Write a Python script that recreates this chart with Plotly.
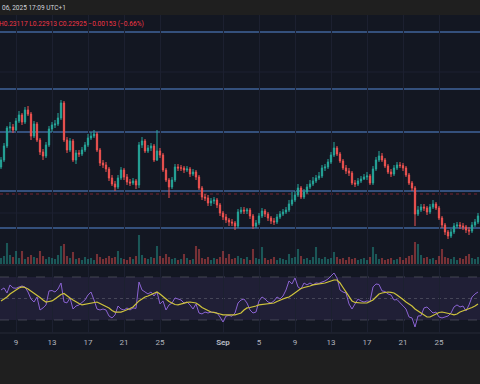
import pandas as pd
import plotly.graph_objects as go

# ---------------- data ----------------
times = pd.date_range("2025-08-07 08:00", periods=160, freq="8h")

open_ = [0.2665,0.2700,0.2770,0.2860,0.2865,0.2850,0.2895,0.2925,0.2890,0.2950,
         0.2930,0.2820,0.2880,0.2800,0.2740,0.2720,0.2775,0.2855,0.2875,0.2880,
         0.2910,0.2985,0.2800,0.2750,0.2795,0.2700,0.2735,0.2730,0.2750,0.2775,
         0.2810,0.2820,0.2830,0.2750,0.2685,0.2675,0.2655,0.2610,0.2580,0.2565,
         0.2610,0.2650,0.2615,0.2590,0.2585,0.2595,0.2575,0.2775,0.2795,0.2745,
         0.2760,0.2770,0.2700,0.2745,0.2725,0.2650,0.2600,0.2565,0.2600,0.2665,
         0.2660,0.2660,0.2650,0.2655,0.2630,0.2640,0.2615,0.2560,0.2515,0.2510,
         0.2485,0.2495,0.2500,0.2475,0.2435,0.2415,0.2400,0.2390,0.2385,0.2370,
         0.2440,0.2450,0.2445,0.2450,0.2420,0.2370,0.2385,0.2420,0.2445,0.2430,
         0.2410,0.2395,0.2390,0.2415,0.2430,0.2440,0.2450,0.2480,0.2500,0.2525,
         0.2560,0.2515,0.2540,0.2565,0.2580,0.2595,0.2610,0.2620,0.2660,0.2665,
         0.2690,0.2725,0.2760,0.2730,0.2695,0.2660,0.2645,0.2635,0.2585,0.2580,
         0.2595,0.2605,0.2615,0.2620,0.2585,0.2655,0.2700,0.2720,0.2700,0.2670,
         0.2640,0.2630,0.2660,0.2675,0.2672,0.2660,0.2625,0.2585,0.2560,0.2430,
         0.2450,0.2465,0.2460,0.2440,0.2465,0.2480,0.2460,0.2410,0.2375,0.2340,
         0.2320,0.2340,0.2370,0.2375,0.2370,0.2365,0.2350,0.2345,0.2375,0.2390]

high = [0.2715,0.2785,0.2870,0.2890,0.2880,0.2910,0.2945,0.2935,0.2965,0.2970,
        0.2940,0.2895,0.2890,0.2810,0.2755,0.2790,0.2870,0.2890,0.2900,0.2935,
        0.3000,0.2995,0.2815,0.2810,0.2805,0.2750,0.2750,0.2765,0.2790,0.2830,
        0.2840,0.2850,0.2840,0.2760,0.2700,0.2690,0.2665,0.2625,0.2595,0.2625,
        0.2665,0.2660,0.2630,0.2605,0.2610,0.2605,0.2790,0.2815,0.2805,0.2775,
        0.2785,0.2780,0.2850,0.2760,0.2735,0.2660,0.2610,0.2615,0.2680,0.2680,
        0.2675,0.2670,0.2670,0.2665,0.2655,0.2650,0.2625,0.2570,0.2530,0.2525,
        0.2510,0.2515,0.2510,0.2485,0.2445,0.2430,0.2410,0.2405,0.2395,0.2455,
        0.2465,0.2465,0.2460,0.2460,0.2430,0.2400,0.2435,0.2460,0.2455,0.2440,
        0.2420,0.2410,0.2430,0.2445,0.2455,0.2465,0.2500,0.2540,0.2545,0.2580,
        0.2570,0.2555,0.2580,0.2600,0.2615,0.2625,0.2640,0.2675,0.2680,0.2705,
        0.2740,0.2790,0.2770,0.2740,0.2705,0.2675,0.2660,0.2645,0.2600,0.2610,
        0.2620,0.2630,0.2640,0.2630,0.2670,0.2715,0.2745,0.2735,0.2710,0.2680,
        0.2655,0.2675,0.2690,0.2690,0.2685,0.2670,0.2635,0.2595,0.2570,0.2470,
        0.2480,0.2480,0.2470,0.2480,0.2500,0.2490,0.2470,0.2420,0.2385,0.2350,
        0.2355,0.2385,0.2390,0.2390,0.2385,0.2375,0.2365,0.2390,0.2405,0.2435]

low = [0.2655,0.2690,0.2760,0.2840,0.2835,0.2845,0.2885,0.2875,0.2880,0.2920,
       0.2800,0.2810,0.2790,0.2725,0.2700,0.2710,0.2765,0.2840,0.2860,0.2870,
       0.2900,0.2790,0.2735,0.2740,0.2690,0.2680,0.2715,0.2720,0.2740,0.2765,
       0.2800,0.2810,0.2740,0.2670,0.2660,0.2640,0.2595,0.2570,0.2545,0.2555,
       0.2600,0.2600,0.2575,0.2570,0.2575,0.2555,0.2560,0.2760,0.2735,0.2735,
       0.2745,0.2690,0.2695,0.2710,0.2640,0.2590,0.2510,0.2555,0.2590,0.2645,
       0.2645,0.2635,0.2640,0.2615,0.2620,0.2600,0.2550,0.2500,0.2495,0.2470,
       0.2470,0.2480,0.2460,0.2420,0.2400,0.2385,0.2370,0.2370,0.2350,0.2360,
       0.2430,0.2430,0.2430,0.2405,0.2355,0.2360,0.2375,0.2410,0.2415,0.2395,
       0.2380,0.2375,0.2380,0.2405,0.2420,0.2430,0.2440,0.2470,0.2490,0.2515,
       0.2505,0.2505,0.2530,0.2555,0.2570,0.2585,0.2600,0.2610,0.2645,0.2655,
       0.2680,0.2715,0.2720,0.2685,0.2650,0.2630,0.2620,0.2575,0.2565,0.2570,
       0.2585,0.2600,0.2600,0.2575,0.2575,0.2645,0.2690,0.2690,0.2660,0.2630,
       0.2615,0.2620,0.2650,0.2660,0.2645,0.2615,0.2575,0.2545,0.2370,0.2420,
       0.2440,0.2445,0.2425,0.2430,0.2455,0.2450,0.2400,0.2360,0.2325,0.2305,
       0.2310,0.2330,0.2360,0.2355,0.2350,0.2335,0.2325,0.2335,0.2365,0.2380]

close = [0.2700,0.2770,0.2860,0.2865,0.2850,0.2895,0.2925,0.2890,0.2950,0.2930,
         0.2820,0.2880,0.2800,0.2740,0.2720,0.2775,0.2855,0.2875,0.2880,0.2910,
         0.2985,0.2800,0.2750,0.2795,0.2700,0.2735,0.2730,0.2750,0.2775,0.2810,
         0.2820,0.2830,0.2750,0.2685,0.2675,0.2655,0.2610,0.2580,0.2565,0.2610,
         0.2650,0.2615,0.2590,0.2585,0.2595,0.2575,0.2775,0.2795,0.2745,0.2760,
         0.2770,0.2700,0.2745,0.2725,0.2650,0.2600,0.2565,0.2600,0.2665,0.2660,
         0.2660,0.2650,0.2655,0.2630,0.2640,0.2615,0.2560,0.2515,0.2510,0.2485,
         0.2495,0.2500,0.2475,0.2435,0.2415,0.2400,0.2390,0.2385,0.2370,0.2440,
         0.2450,0.2445,0.2450,0.2420,0.2370,0.2385,0.2420,0.2445,0.2430,0.2410,
         0.2395,0.2390,0.2415,0.2430,0.2440,0.2450,0.2480,0.2500,0.2525,0.2560,
         0.2515,0.2540,0.2565,0.2580,0.2595,0.2610,0.2620,0.2660,0.2665,0.2690,
         0.2725,0.2760,0.2730,0.2695,0.2660,0.2645,0.2635,0.2585,0.2580,0.2595,
         0.2605,0.2615,0.2620,0.2585,0.2655,0.2700,0.2720,0.2700,0.2670,0.2640,
         0.2630,0.2660,0.2675,0.2672,0.2660,0.2625,0.2585,0.2560,0.2430,0.2450,
         0.2465,0.2460,0.2440,0.2465,0.2480,0.2460,0.2410,0.2375,0.2340,0.2320,
         0.2340,0.2370,0.2375,0.2370,0.2365,0.2350,0.2345,0.2375,0.2390,0.2420]

volume = [6,8,21,9,7,13,6,13,5,7,
          9,7,6,13,8,5,7,6,5,9,
          18,20,8,6,12,5,6,4,7,5,
          6,4,10,7,5,6,8,6,7,13,
          6,5,4,7,5,8,29,9,6,5,
          7,6,18,8,6,10,7,5,6,4,
          5,10,6,4,5,18,15,6,5,7,
          4,6,5,7,13,6,10,5,6,8,
          6,5,7,4,15,6,5,17,6,4,
          5,7,4,6,5,4,10,6,7,15,
          8,5,6,4,7,17,6,5,7,5,
          6,12,7,5,6,4,7,5,6,4,
          5,6,4,7,17,10,5,6,4,5,
          6,4,5,7,4,6,8,9,22,20,
          9,6,7,5,6,4,8,15,7,6,
          5,7,4,6,5,8,10,6,5,7]

rsi = [57.9,59.8,55.1,62.6,59.8,59.5,60.7,61.6,60.7,56.0,
       49.5,46.7,51.4,39.3,41.2,44.0,57.0,57.4,56.0,58.8,
       64.4,46.7,45.9,50.5,40.2,43.0,44.0,46.7,48.6,53.3,
       56.0,48.6,40.2,39.3,40.2,39.3,33.7,31.9,34.7,43.0,
       40.2,39.3,41.2,39.3,41.2,40.8,65.3,57.9,56.0,54.2,
       56.0,52.3,56.0,44.9,47.7,39.3,44.0,45.8,50.5,49.5,
       48.6,45.8,46.7,44.0,40.2,44.9,36.5,35.6,37.4,36.5,
       37.4,37.0,36.5,32.8,28.1,33.7,34.2,33.5,36.5,45.8,
       48.6,49.5,45.8,39.3,36.5,37.4,47.7,51.4,49.5,46.7,
       45.8,47.7,51.4,49.5,52.3,57.9,66.3,63.5,69.1,60.7,
       58.8,64.4,62.6,64.4,62.6,64.4,64.0,65.3,66.3,68.1,
       70.9,73.7,69.1,57.9,56.0,55.1,44.9,40.2,44.9,49.5,
       47.7,46.7,47.7,47.2,60.7,63.5,63.0,57.0,56.5,54.2,
       53.3,48.6,49.0,45.8,43.0,40.2,32.8,31.9,23.5,33.7,
       34.0,41.2,42.1,39.3,36.5,37.4,32.8,31.9,32.8,33.7,
       36.5,42.1,44.0,42.1,43.0,38.4,44.0,51.4,54.2,56.0]

rsi_ma = [47.7,49.5,51.4,54.2,56.0,57.9,59.8,60.7,60.2,58.8,
          57.0,55.1,53.3,50.9,48.6,46.7,47.2,47.7,49.5,51.4,
          53.7,54.7,52.3,50.5,48.6,46.7,45.3,44.0,44.4,45.3,
          45.8,46.3,46.7,45.3,44.0,42.6,41.2,38.8,37.4,37.4,
          37.4,38.4,39.3,40.7,42.1,44.9,47.7,49.5,51.4,52.3,
          53.7,55.1,56.0,54.2,51.4,49.5,47.2,45.8,44.4,44.0,
          44.9,45.8,46.3,46.7,46.3,45.8,44.0,41.6,40.2,38.4,
          37.4,37.0,36.5,35.6,34.7,34.7,34.7,34.7,34.7,35.6,
          36.5,39.3,41.2,41.6,42.1,43.0,44.0,44.4,44.9,44.9,
          45.3,45.8,47.2,48.6,49.5,50.5,51.4,53.3,55.6,57.9,
          59.3,60.2,60.7,61.6,62.6,63.0,63.5,64.0,64.4,65.3,
          66.3,67.2,67.2,64.4,60.2,56.0,51.4,47.7,46.3,45.8,
          45.8,45.8,45.8,47.2,48.6,51.4,54.2,55.1,55.6,56.0,
          55.6,55.1,53.3,51.4,49.1,46.7,44.9,43.0,40.2,38.4,
          36.5,34.7,32.8,32.8,34.2,35.6,37.0,37.4,37.0,36.5,
          35.6,34.7,35.6,37.4,38.4,39.3,40.2,41.6,43.0,44.9]

levels = [0.3340, 0.3055, 0.2840, 0.2545, 0.2360]
price_grid = [0.3140, 0.2435]
last_price_level = 0.2530

tick_dates = ["2025-08-09", "2025-08-13", "2025-08-17", "2025-08-21", "2025-08-25",
              "2025-09-01", "2025-09-05", "2025-09-09", "2025-09-13", "2025-09-17",
              "2025-09-21", "2025-09-25"]
tick_text = ["9", "13", "17", "21", "25", "<b>Sep</b>", "5", "9", "13", "17", "21", "25"]

header_text = "06, 2025 17:09 UTC+1"
ohlc_text = "H0.23117 L0.22913 C0.22925 \u22120.00153 (\u22120.66%)"

# ---------------- figure ----------------
UP, DN = "#26a69a", "#ef5350"
W, H = 480, 384
MT, MB = 15, 34
PH = H - MT - MB  # plot height in px


def py(px):
    """paper y for a pixel row"""
    return 1 - (px - MT) / PH


vol_colors = ["rgba(38,166,154,0.45)" if c >= o else "rgba(239,83,80,0.45)"
              for o, c in zip(open_, close)]

fig = go.Figure()
fig.add_trace(go.Bar(x=times, y=volume, marker=dict(color=vol_colors, line=dict(width=0)),
                     xaxis="x", yaxis="y", hoverinfo="skip"))
fig.add_trace(go.Candlestick(x=times, open=open_, high=high, low=low, close=close,
                             xaxis="x", yaxis="y2", whiskerwidth=0,
                             increasing=dict(line=dict(color=UP, width=1), fillcolor=UP),
                             decreasing=dict(line=dict(color=DN, width=1), fillcolor=DN)))
fig.add_trace(go.Scatter(x=times, y=rsi, mode="lines", xaxis="x", yaxis="y3",
                         line=dict(color="#8a63d2", width=1)))
fig.add_trace(go.Scatter(x=times, y=rsi_ma, mode="lines", xaxis="x", yaxis="y3",
                         line=dict(color="#cfc43c", width=1.2)))

shapes = []
# chrome backgrounds
shapes.append(dict(type="rect", xref="paper", yref="paper", x0=0, x1=1, y0=py(0), y1=py(MT),
                   fillcolor="#1f1f1f", line=dict(width=0), layer="below"))
shapes.append(dict(type="rect", xref="paper", yref="paper", x0=0, x1=1, y0=py(350), y1=py(H),
                   fillcolor="#1f1f1f", line=dict(width=0), layer="below"))
# pane separators
for sp in (265, 333):
    shapes.append(dict(type="line", xref="paper", yref="paper", x0=0, x1=1, y0=py(sp), y1=py(sp),
                       line=dict(color="#262a36", width=1), layer="below"))
# faint horizontal price grid
for g in price_grid:
    shapes.append(dict(type="line", xref="paper", yref="y2", x0=0, x1=1, y0=g, y1=g,
                       line=dict(color="#1c2030", width=1), layer="below"))
# drawn horizontal levels
for lv in levels:
    shapes.append(dict(type="line", xref="paper", yref="y2", x0=0, x1=1, y0=lv, y1=lv,
                       line=dict(color="#34507c", width=2), layer="below"))
# last price line
shapes.append(dict(type="line", xref="paper", yref="y2", x0=0, x1=1, y0=last_price_level,
                   y1=last_price_level, line=dict(color="rgba(242,54,69,0.45)", width=1, dash="dot"),
                   layer="below"))
# RSI band and guide lines
shapes.append(dict(type="rect", xref="paper", yref="y3", x0=0, x1=1, y0=30, y1=70,
                   fillcolor="rgba(126,87,194,0.13)", line=dict(width=0), layer="below"))
for g, d in ((70, "dash"), (50, "dot"), (30, "dash")):
    shapes.append(dict(type="line", xref="paper", yref="y3", x0=0, x1=1, y0=g, y1=g,
                       line=dict(color="rgba(120,123,134,0.45)", width=1, dash=d), layer="below"))

annotations = [
    dict(text=header_text, xref="paper", yref="paper", x=0, y=py(8), xanchor="left",
         yanchor="middle", showarrow=False, font=dict(family="Roboto", size=6.5, color="#d1d4dc")),
    dict(text=ohlc_text, xref="paper", yref="paper", x=0, xshift=-3, y=py(24), xanchor="left",
         yanchor="middle", showarrow=False, font=dict(family="Roboto", size=6.6, color="#f23645")),
]

fig.update_layout(
    width=W, height=H,
    margin=dict(l=0, r=0, t=MT, b=MB),
    paper_bgcolor="#131722", plot_bgcolor="rgba(0,0,0,0)",
    showlegend=False, bargap=0.3, boxgap=0.4,
    xaxis=dict(type="date", range=["2025-08-07 05:20", "2025-09-29 13:20"], anchor="y3",
               tickvals=tick_dates, ticktext=tick_text, showgrid=True, gridcolor="#1c2030",
               gridwidth=1, zeroline=False, showline=False, ticks="", ticklabelstandoff=3,
               tickfont=dict(family="Roboto", size=8, color="#b2b5be"),
               rangeslider=dict(visible=False), fixedrange=True),
    yaxis=dict(domain=[py(264), 1], range=[0, 249], visible=False, showgrid=False, fixedrange=True),
    yaxis2=dict(overlaying="y", range=[0.218, 0.3425], visible=False, showgrid=False, fixedrange=True),
    yaxis3=dict(domain=[py(333), py(266)], range=[17.9, 80.2], visible=False, showgrid=False,
                fixedrange=True),
    shapes=shapes, annotations=annotations,
)

fig.write_html(
    "out.html",
    config={"displayModeBar": False},
    post_script="document.body.style.margin='0';document.body.style.overflow='hidden';",
)
